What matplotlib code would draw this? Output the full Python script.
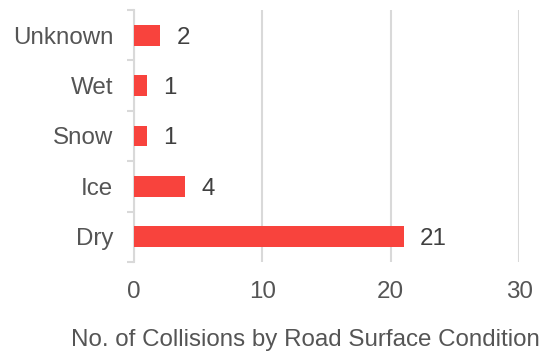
import matplotlib.pyplot as plt

conditions = ["Dry", "Ice", "Snow", "Wet", "Unknown"]
collisions = [21, 4, 1, 1, 2]

plt.rcParams['font.family'] = ['Liberation Sans', 'DejaVu Sans']
txt_color = "#555555"
grid_color = "#d9d9d9"
fs = 17.4

fig = plt.figure(figsize=(5.47, 3.53), dpi=100)
ax = fig.add_axes([134 / 547, 1 - 262 / 353, (519 - 134) / 547, (262 - 10) / 353])

ypos = list(range(len(conditions)))
bars = ax.barh(ypos, collisions, height=0.41, color="#F8433D", zorder=3)

for y, v in zip(ypos, collisions):
    ax.annotate(str(v), (v, y), xytext=(12, 0), textcoords="offset points",
                va="center_baseline", ha="left", fontsize=fs, color="#404040")

ax.set_xlim(0, 30)
ax.set_ylim(-0.5, len(conditions) - 0.5)
ax.set_xticks([0, 10, 20, 30])
ax.set_yticks(ypos)
ax.set_yticklabels(conditions)
ax.set_yticks([y - 0.5 for y in ypos] + [len(conditions) - 0.5], minor=True)

ax.grid(axis="x", color=grid_color, linewidth=1.5, zorder=0)
for s in ["top", "right", "bottom"]:
    ax.spines[s].set_visible(False)
ax.spines["left"].set_color(grid_color)
ax.spines["left"].set_linewidth(1.5)

ax.tick_params(axis="y", which="major", length=0, pad=15, labelsize=fs, labelcolor=txt_color)
ax.tick_params(axis="y", which="minor", length=5, width=1.5, color=grid_color)
ax.tick_params(axis="x", length=0, pad=14, labelsize=fs, labelcolor=txt_color)

fig.text(305 / 547, 1 - 340 / 353, "No. of Collisions by Road Surface Condition",
         ha="center", va="center", fontsize=fs, color=txt_color)

plt.savefig("out.png", dpi=100)
